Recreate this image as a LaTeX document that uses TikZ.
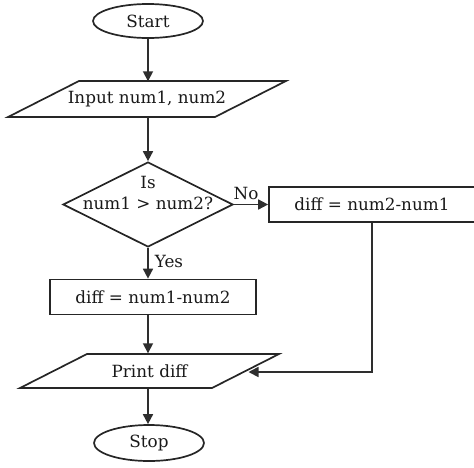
\documentclass[tikz,border=0pt]{standalone}
\usepackage{fontspec}
\setmainfont{DejaVu Serif}
\usetikzlibrary{shapes.geometric,arrows.meta,calc}
\begin{document}
\begin{tikzpicture}[x=1pt,y=-1pt,
  every node/.style={font=\fontsize{16.8}{21}\selectfont, text=black!90},
  line/.style={draw=black!82, line width=1.7pt},
  arr/.style={line, -{Triangle[length=10pt,width=10pt]}},
  term/.style={ellipse, draw=black!85, line width=1.7pt, minimum width=110pt, minimum height=34pt, inner sep=0pt},
  proc/.style={rectangle, draw=black!85, line width=1.7pt, minimum height=35pt, inner sep=0pt},
  io/.style={rectangle, minimum height=35pt, minimum width=137pt, inner sep=0pt},
  dec/.style={diamond, draw=black!85, line width=1.7pt, minimum width=170pt, minimum height=85pt, inner sep=0pt},
  lbl/.style={inner sep=1pt}
]
\useasboundingbox (0,0) rectangle (474,467);
\node[term] (start) at (148,21) {Start};
\node[io] (in) at (147,99) {Input num1, num2};
\draw[line, draw=black!85] (in.center) ++(-68,-18) -- ++(207,0) -- ++(-71,36) -- ++(-207,0) -- cycle;
\node[dec] (dec) at (148,204.5) {};
\node[align=center] (dectext) at (148,193) {Is\\num1 > num2?};
\node[proc, minimum width=206pt] (r) at (372,204.5) {diff = num2-num1};
\node[proc, minimum width=206pt] (l) at (153,297) {diff = num1-num2};
\node[io] (pr) at (149.5,371) {Print diff};
\draw[line, draw=black!85] (pr.center) ++(-62.5,-17) -- ++(192,0) -- ++(-67,34) -- ++(-192,0) -- cycle;
\node[term, minimum height=36pt] (stop) at (149,443) {Stop};
\coordinate (prE) at ($(pr.center)+(99,1)$);
\draw[arr] (start.south) -- (start.south |- in.north);
\draw[arr] (start.south |- in.south) -- (start.south |- dec.north);
\draw[arr] (dec.east) -- (r.west);
\node[lbl] (no) at (246,193) {No};
\draw[arr] (dec.south) -- (dec.south |- l.north);
\node[lbl] (yes) at (169,261) {Yes};
\draw[arr] (dec.south |- l.south) -- (dec.south |- pr.north);
\draw[arr] (r.south) |- (prE);
\draw[arr] (dec.south |- pr.south) -- (dec.south |- stop.north);
\end{tikzpicture}
\end{document}
